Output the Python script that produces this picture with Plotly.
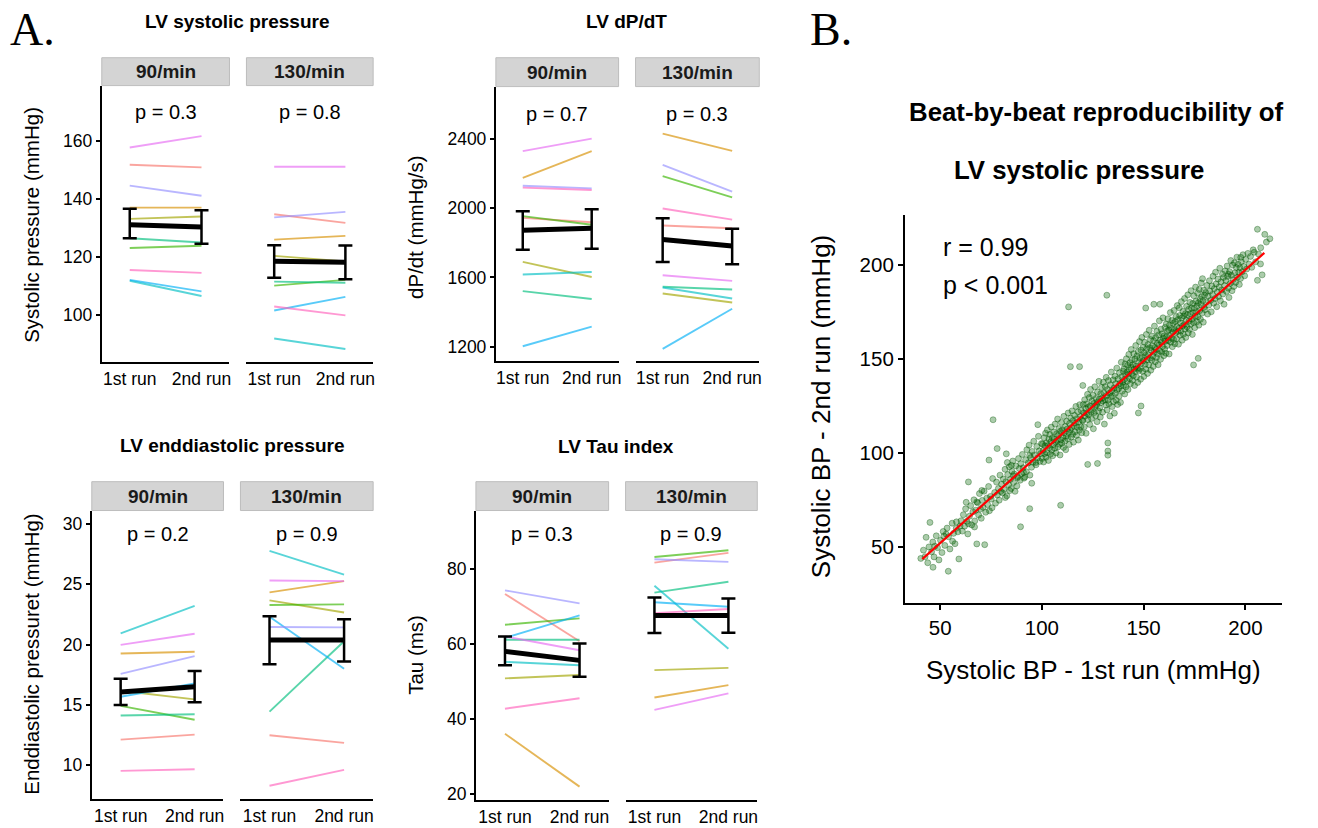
import plotly.graph_objects as go

W, H = 1318, 828

runs = ['1st run', '2nd run']
rates = ['90/min', '130/min']
subject_colors = ['#F8766D', '#D89000', '#A3A500', '#39B600', '#00BF7D',
                  '#00BFC4', '#00B0F6', '#9590FF', '#E76BF3', '#FF62BC']

# ---------------- Panel A data (10 subjects, ordered by colour) ----------------
# LV systolic pressure (mmHg)
sys_90_run1 = [151.8, 137.0, 133.1, 123.0, 126.4, 111.7, 112.0, 144.6, 157.8, 115.4]
sys_90_run2 = [150.9, 137.0, 133.9, 123.8, 124.9, 106.4, 108.0, 141.1, 161.7, 114.4]
sys_130_run1 = [134.7, 125.9, 120.3, 110.0, 111.4, 91.7, 101.4, 133.6, 151.1, 102.8]
sys_130_run2 = [131.7, 127.2, 118.4, 112.0, 111.0, 88.1, 106.1, 135.5, 151.1, 99.7]
sys_mean_90, sys_low_90, sys_high_90 = [131.1, 130.3], [126.4, 124.5], [136.6, 136.1]
sys_mean_130, sys_low_130, sys_high_130 = [118.4, 118.1], [112.7, 112.2], [124.0, 123.9]

# LV dP/dt (mmHg/s)
dpdt_90_run1 = [1945, 2177, 1690, 1955, 1521, 1617, 1202, 2131, 2331, 2120]
dpdt_90_run2 = [1920, 2331, 1603, 1905, 1475, 1632, 1315, 2116, 2404, 2106]
dpdt_130_run1 = [1901, 2433, 1507, 2187, 1546, 1542, 1187, 2252, 1613, 1999]
dpdt_130_run2 = [1885, 2333, 1455, 2064, 1530, 1478, 1419, 2097, 1580, 1935]
dpdt_mean_90, dpdt_low_90, dpdt_high_90 = [1874, 1885], [1761, 1766], [1983, 1995]
dpdt_mean_130, dpdt_low_130, dpdt_high_130 = [1820, 1782], [1690, 1676], [1943, 1882]

# LV end-diastolic pressure (mmHg)
edp_90_run1 = [12.13, 19.26, 16.17, 14.92, 14.13, 20.93, 15.68, 17.57, 19.97, 9.54]
edp_90_run2 = [12.54, 19.40, 15.46, 13.77, 14.23, 23.20, 16.78, 19.04, 20.90, 9.67]
edp_130_run1 = [12.49, 24.32, 23.66, 23.28, 14.45, 27.76, 22.30, 21.45, 25.30, 8.31]
edp_130_run2 = [11.86, 25.25, 22.65, 23.33, 20.27, 25.79, 18.00, 21.42, 25.25, 9.62]
edp_mean_90, edp_low_90, edp_high_90 = [16.07, 16.50], [15.00, 15.22], [17.16, 17.81]
edp_mean_130, edp_low_130, edp_high_130 = [20.38, 20.38], [18.36, 18.60], [22.35, 22.10]

# LV Tau index (ms)
tau_90_run1 = [73.4, 36.1, 50.9, 65.2, 61.2, 55.3, 61.7, 74.4, 62.1, 42.8]
tau_90_run2 = [60.8, 22.0, 51.8, 66.9, 61.2, 54.4, 67.7, 70.9, 58.4, 45.6]
tau_130_run1 = [81.8, 45.8, 53.1, 83.3, 73.8, 75.6, 71.2, 82.7, 42.5, 68.3]
tau_130_run2 = [84.4, 49.1, 53.7, 85.1, 76.7, 58.8, 70.0, 82.0, 46.9, 69.4]
tau_mean_90, tau_low_90, tau_high_90 = [58.1, 55.7], [54.4, 51.3], [62.1, 60.2]
tau_mean_130, tau_low_130, tau_high_130 = [67.7, 67.7], [63.0, 63.1], [72.5, 72.2]

p_values = {'sys': ['p = 0.3', 'p = 0.8'], 'dpdt': ['p = 0.7', 'p = 0.3'],
            'edp': ['p = 0.2', 'p = 0.9'], 'tau': ['p = 0.3', 'p = 0.9']}

# ---------------- Panel B data: beat-by-beat systolic BP (1st run, 2nd run) ----------------
sbp_40_60 = [(40.5, 44.1), (41.8, 48.5), (42.6, 45.0), (43.1, 55.3), (43.9, 41.8), (44.5, 50.2),
             (46.5, 39.4), (45.8, 47.6), (46.4, 52.8), (47.0, 44.9), (47.4, 50.6), (48.1, 56.1),
             (48.7, 49.8), (49.4, 43.3), (50.2, 53.7), (50.9, 47.2), (51.5, 58.4), (52.3, 51.0),
             (53.4, 60.2), (54.0, 37.3), (54.1, 55.6), (54.8, 49.1), (55.9, 62.8), (56.6, 57.4),
             (57.3, 51.9), (58.0, 63.5), (58.7, 58.2), (59.2, 43.8), (59.8, 61.3), (45.0, 63.2),
             (51.8, 55.9), (56.1, 53.2), (57.9, 60.1), (53.0, 57.0)]
sbp_60_80 = [(60.3, 64.1), (60.9, 58.6), (61.4, 67.3), (62.0, 61.2), (62.5, 70.4), (63.1, 63.8),
             (63.6, 57.1), (63.9, 84.7), (64.4, 66.5), (65.0, 72.1), (65.5, 61.9), (66.1, 68.8),
             (66.6, 75.2), (67.0, 64.0), (67.5, 69.7), (68.0, 51.8), (68.4, 73.6), (68.9, 67.1),
             (69.3, 78.5), (69.8, 70.3), (70.2, 65.4), (70.7, 74.9), (71.1, 71.2), (71.6, 79.8),
             (71.9, 51.4), (72.4, 68.6), (72.9, 76.1), (73.3, 72.7), (73.8, 82.3), (74.0, 96.3),
             (74.2, 69.4), (74.7, 77.0), (75.1, 75.6), (75.5, 71.0), (76.0, 117.7), (78.0, 102.4),
             (76.8, 79.1), (77.2, 73.4), (77.7, 84.6), (78.1, 77.8), (78.6, 81.2), (79.0, 75.0),
             (79.4, 88.3), (79.8, 79.6), (63.9, 62.5), (68.0, 74.1), (62.8, 73.9), (66.9, 60.8),
             (70.5, 80.2), (75.8, 86.5)]
sbp_80_100 = [(80.2, 83.5), (80.6, 78.9), (81.0, 86.2), (81.4, 80.7), (81.9, 91.4), (82.3, 84.8),
              (82.5, 99.6), (82.8, 77.3), (83.2, 88.6), (83.6, 83.1), (84.0, 92.7), (84.2, 80.1),
              (84.5, 86.0), (84.9, 81.2), (85.3, 90.3), (85.7, 95.8), (86.0, 88.0), (86.1, 84.4),
              (86.4, 88.9), (86.8, 79.7), (87.2, 93.2), (88.0, 86.9), (88.1, 87.5), (88.5, 97.1),
              (88.9, 91.8), (89.3, 85.6), (89.5, 60.9), (89.6, 94.4), (90.0, 89.0), (90.4, 99.3),
              (90.8, 92.2), (91.0, 89.7), (91.2, 86.7), (91.6, 87.3), (92.0, 96.5), (92.4, 90.1),
              (92.6, 101.8), (93.3, 94.8), (93.7, 104.2), (94.0, 70.5), (94.0, 98.8), (94.1, 88.3),
              (94.5, 97.6), (94.9, 92.5), (95.2, 100.9), (95.6, 95.1), (96.0, 106.3), (96.3, 99.0),
              (97.0, 95.0), (97.1, 93.8), (97.5, 103.5), (97.9, 97.4), (98.3, 108.9), (98.7, 101.2),
              (99.0, 95.6), (99.4, 99.7), (99.8, 105.1), (87.7, 82.6), (82.0, 76.4), (85.0, 93.5),
              (83.0, 95.0), (95.0, 84.0), (98.0, 115.1)]
sbp_100_120 = [(100.1, 97.2), (100.3, 104.8), (100.6, 101.5), (100.8, 95.3), (101.1, 108.2), (101.3, 99.7),
               (101.5, 103.9), (101.8, 110.6), (102.0, 97.8), (102.3, 105.4), (102.5, 100.2), (102.7, 112.3),
               (103.0, 104.0), (103.2, 96.1), (103.4, 107.5), (103.7, 102.8), (103.9, 109.9), (104.1, 99.4),
               (104.4, 106.1), (104.6, 113.8), (104.9, 101.7), (105.1, 108.0), (105.3, 98.6), (105.6, 104.5),
               (105.8, 111.2), (106.0, 107.3), (106.3, 102.6), (106.5, 115.4), (106.8, 105.9), (107.0, 100.1),
               (107.2, 110.2), (107.5, 106.7), (107.7, 118.1), (107.9, 103.3), (108.2, 109.5), (108.4, 113.0),
               (108.7, 104.7), (108.9, 99.0), (109.1, 111.6), (109.2, 72.3), (109.4, 107.1), (109.6, 116.3),
               (109.8, 105.2), (110.1, 112.4), (110.3, 108.3), (110.6, 103.0), (110.8, 119.5), (111.0, 110.7),
               (111.3, 106.4), (111.5, 114.1), (111.7, 101.8), (112.0, 109.1), (112.2, 116.9), (112.5, 112.8),
               (112.7, 107.6), (112.9, 121.3), (113.1, 177.6), (113.2, 110.9), (113.4, 104.6), (113.6, 115.7),
               (113.9, 112.1), (114.0, 145.9), (114.1, 118.6), (114.4, 108.5), (114.6, 113.6), (114.8, 122.4),
               (115.1, 110.0), (115.3, 117.2), (115.5, 105.8), (115.8, 114.5), (116.0, 120.1), (116.3, 111.3),
               (116.5, 116.0), (116.7, 124.8), (117.0, 109.4), (117.2, 118.3), (117.4, 113.7), (117.7, 121.9),
               (117.9, 106.9), (118.2, 116.6), (118.4, 112.2), (118.5, 145.9), (118.6, 125.7), (118.9, 119.4),
               (119.1, 114.0), (119.3, 122.6), (119.6, 110.8), (119.8, 117.5)]
sbp_120_140 = [(120.1, 117.2), (120.1, 135.9), (120.3, 125.8), (120.6, 121.4), (120.8, 113.9), (121.0, 128.3),
               (121.2, 119.6), (121.5, 123.7), (121.7, 110.5), (121.9, 126.1), (122.1, 121.0), (122.4, 131.2),
               (122.5, 94.0), (122.6, 117.8), (122.8, 124.4), (123.0, 120.3), (123.3, 129.5), (123.5, 115.2),
               (123.7, 125.0), (123.9, 133.8), (124.2, 121.9), (124.4, 118.4), (124.6, 127.6), (124.8, 123.1),
               (125.1, 130.7), (125.3, 112.9), (125.5, 126.3), (125.7, 121.5), (126.0, 135.2), (126.2, 124.9),
               (126.4, 119.8), (126.6, 129.0), (126.9, 125.6), (127.1, 116.7), (127.3, 94.5), (127.3, 132.4),
               (127.5, 127.2), (127.8, 122.3), (128.0, 138.1), (128.2, 128.6), (128.4, 124.0), (128.7, 119.1),
               (128.9, 131.5), (129.1, 126.8), (129.3, 134.9), (129.6, 129.3), (129.8, 121.7), (130.0, 127.7),
               (130.2, 137.6), (130.5, 132.0), (130.7, 115.4), (130.9, 128.4), (131.1, 135.3), (131.4, 125.5),
               (131.6, 140.2), (131.8, 130.6), (131.9, 183.8), (132.0, 122.9), (132.3, 133.7), (132.4, 105.4),
               (132.4, 101.1), (132.4, 98.9), (132.5, 128.1), (132.7, 138.5), (132.9, 126.2), (133.2, 131.8),
               (133.4, 119.7), (133.6, 136.3), (133.8, 129.9), (134.1, 143.0), (134.3, 133.1), (134.5, 124.7),
               (134.7, 130.4), (135.0, 138.9), (135.2, 127.3), (135.4, 134.6), (135.6, 121.2), (135.9, 140.8),
               (136.1, 131.7), (136.3, 136.9), (136.5, 128.0), (136.8, 145.1), (137.0, 133.5), (137.2, 125.8),
               (137.4, 139.4), (137.7, 134.2), (137.9, 130.1), (138.1, 142.7), (138.3, 137.0), (138.6, 126.9),
               (138.8, 135.8), (139.0, 148.2), (139.2, 140.5), (139.5, 132.9), (139.7, 137.7), (139.9, 143.6)]
sbp_140_160 = [(140.1, 136.0), (140.3, 144.8), (140.5, 139.1), (140.7, 131.4), (140.9, 147.3), (141.1, 141.5),
               (141.3, 135.2), (141.5, 150.1), (141.7, 143.0), (141.9, 138.2), (142.1, 146.6), (142.3, 133.7),
               (142.5, 141.9), (142.7, 152.4), (142.9, 144.3), (143.1, 139.6), (143.3, 148.0), (143.5, 136.8),
               (143.7, 145.5), (143.9, 155.0), (144.1, 142.2), (144.3, 149.4), (144.5, 138.7), (144.7, 146.9),
               (144.9, 141.1), (145.1, 152.8), (145.3, 144.6), (145.5, 135.9), (145.7, 149.9), (145.9, 143.3),
               (146.1, 157.1), (146.3, 146.2), (146.5, 140.4), (146.7, 151.6), (146.9, 145.0), (147.1, 137.5),
               (147.3, 153.9), (147.4, 121.3), (147.5, 148.3), (147.7, 143.8), (147.9, 159.2), (148.1, 150.5),
               (148.3, 144.9), (148.5, 139.2), (148.7, 125.0), (148.7, 154.7), (148.9, 147.6), (149.1, 161.4),
               (149.3, 151.1), (149.5, 143.4), (149.7, 156.2), (149.9, 149.0), (150.1, 140.7), (150.3, 153.3),
               (150.5, 158.8), (150.7, 147.1), (150.9, 151.9), (151.0, 177.0), (151.1, 144.5), (151.3, 163.0),
               (151.5, 155.4), (151.7, 149.6), (151.9, 142.3), (152.1, 157.6), (152.3, 152.2), (152.5, 146.8),
               (152.7, 165.2), (152.9, 155.9), (153.1, 150.4), (153.3, 160.3), (153.5, 144.0), (153.7, 154.5),
               (153.9, 149.3), (154.1, 162.1), (154.3, 157.0), (154.5, 151.5), (154.7, 146.0), (154.9, 159.7),
               (155.0, 179.0), (155.1, 153.6), (155.3, 167.4), (155.5, 156.1), (155.7, 148.5), (155.9, 161.2),
               (156.1, 155.0), (156.3, 150.7), (156.5, 164.6), (156.7, 158.3), (156.9, 152.8), (157.1, 146.9),
               (157.3, 162.7), (157.5, 157.4), (157.7, 170.2), (158.0, 179.0), (157.9, 154.2), (158.1, 160.0),
               (158.3, 149.8), (158.5, 165.8), (158.7, 158.9), (158.9, 153.5), (159.1, 163.4), (159.3, 156.6),
               (159.5, 171.8), (159.7, 160.9), (159.9, 151.7)]
sbp_160_180 = [(160.1, 162.2), (160.3, 155.3), (160.5, 166.7), (160.7, 159.4), (160.9, 153.0), (161.1, 168.5),
               (161.3, 161.7), (161.5, 157.1), (161.7, 164.9), (161.9, 171.3), (162.1, 159.8), (162.3, 165.3),
               (162.5, 152.6), (162.7, 168.0), (162.9, 162.4), (163.1, 174.6), (163.3, 158.9), (163.5, 166.1),
               (163.7, 161.0), (163.9, 170.4), (164.1, 156.5), (164.3, 164.2), (164.5, 168.9), (164.7, 160.3),
               (164.9, 175.7), (165.1, 165.6), (165.3, 158.1), (165.5, 169.8), (165.7, 163.9), (165.9, 172.5),
               (166.1, 160.7), (166.3, 167.2), (166.5, 178.3), (166.7, 164.5), (166.9, 170.9), (167.1, 157.8),
               (167.3, 166.3), (167.5, 177.1), (167.7, 173.0), (167.9, 162.6), (168.1, 169.1), (168.3, 164.8),
               (168.5, 180.4), (168.7, 171.7), (168.9, 159.9), (169.1, 167.5), (169.3, 175.2), (169.5, 163.1),
               (169.7, 172.8), (169.9, 168.2), (170.1, 182.1), (170.3, 165.9), (170.5, 174.0), (170.7, 161.4),
               (170.9, 170.6), (171.1, 177.9), (171.3, 167.0), (171.5, 173.4), (171.7, 184.0), (171.9, 163.8),
               (172.1, 176.3), (172.3, 170.1), (172.5, 165.7), (172.7, 180.0), (172.9, 173.9), (173.1, 168.4),
               (173.3, 186.2), (173.5, 176.9), (173.7, 171.2), (173.9, 163.0), (174.1, 179.4), (174.3, 174.5),
               (174.5, 146.8), (174.5, 169.3), (174.7, 183.5), (174.9, 177.0), (175.1, 166.6), (175.3, 172.7),
               (175.5, 188.1), (175.7, 180.6), (175.9, 174.9), (176.1, 169.7), (176.3, 178.2), (176.5, 184.9),
               (176.8, 150.3), (176.7, 172.4), (176.9, 179.8), (177.1, 167.9), (177.3, 186.9), (177.5, 175.6),
               (177.7, 181.7), (177.9, 171.0), (178.1, 178.8), (178.3, 190.3), (178.5, 183.0), (178.9, 192.6),
               (178.7, 174.3), (179.1, 180.9), (179.3, 169.5), (179.5, 186.4), (179.7, 177.4), (179.9, 183.9)]
sbp_180_200 = [(180.2, 176.1), (180.5, 185.2), (180.8, 180.3), (181.1, 189.0), (181.4, 173.8), (181.7, 183.4),
               (182.0, 178.6), (182.3, 191.5), (182.6, 186.0), (182.9, 181.1), (183.2, 175.0), (183.5, 188.7),
               (183.8, 184.2), (184.1, 193.9), (184.4, 179.6), (184.7, 187.3), (185.0, 182.0), (185.3, 196.0),
               (185.6, 189.8), (185.9, 177.7), (186.2, 185.5), (186.5, 192.4), (186.8, 183.1), (187.1, 188.2),
               (187.4, 198.1), (187.7, 180.8), (188.0, 190.9), (188.3, 186.6), (188.7, 195.0), (188.9, 184.4),
               (189.2, 193.2), (189.5, 179.0), (189.8, 188.9), (190.1, 196.7), (190.4, 191.6), (190.7, 185.8),
               (191.0, 199.3), (191.3, 193.8), (191.7, 195.0), (191.6, 187.5), (191.9, 182.6), (192.2, 196.3),
               (192.5, 190.0), (192.8, 202.2), (193.1, 194.4), (193.4, 186.2), (193.7, 199.8), (194.0, 192.1),
               (194.3, 188.4), (194.6, 201.0), (194.9, 195.7), (195.2, 190.6), (195.5, 198.5), (195.8, 204.0),
               (196.1, 193.4), (196.4, 200.2), (196.7, 195.9), (197.0, 189.5), (197.7, 203.9), (197.3, 198.4),
               (197.6, 192.7), (198.0, 201.6), (198.4, 196.2), (198.8, 205.3), (199.2, 199.1), (199.6, 194.1)]
sbp_200_216 = [(200.1, 202.8), (200.6, 197.7), (201.2, 206.0), (201.8, 200.3), (202.5, 204.4), (203.1, 198.6),
               (203.8, 207.9), (204.3, 206.6), (205.0, 201.5), (205.9, 191.7), (205.9, 218.8), (206.4, 205.7),
               (207.4, 200.4), (207.5, 209.0), (208.2, 194.6), (209.5, 216.1), (210.3, 212.0), (212.0, 213.8)]

# regression line end points
fit_run1 = [41.2, 209.3]
fit_run2 = [43.7, 206.3]

# ---------------- helpers ----------------
def fx(px):
    return px / W

def fy(py):
    return 1 - py / H

FONT = 'Liberation Sans, Arial, sans-serif'
SERIF = 'Liberation Serif, Times New Roman, serif'
TICK = 17.5

measures = {
    'sys': dict(title='LV systolic pressure', ytitle='Systolic pressure (mmHg)', yrange=[83.5, 179.2],
                ticks=[100, 120, 140, 160],
                data=[(sys_90_run1, sys_90_run2, sys_mean_90, sys_low_90, sys_high_90),
                      (sys_130_run1, sys_130_run2, sys_mean_130, sys_low_130, sys_high_130)],
                boxes=[(102, 230), (247, 374)], ybox=(86, 364), title_xy=(238, 22), ytitle_xy=(32, 226),
                p_y=113, strip=(58, 86)),
    'dpdt': dict(title='LV dP/dT', ytitle='dP/dt (mmHg/s)', yrange=[1115, 2705],
                 ticks=[1200, 1600, 2000, 2400],
                 data=[(dpdt_90_run1, dpdt_90_run2, dpdt_mean_90, dpdt_low_90, dpdt_high_90),
                       (dpdt_130_run1, dpdt_130_run2, dpdt_mean_130, dpdt_low_130, dpdt_high_130)],
                 boxes=[(497, 620), (637, 761)], ybox=(87, 363), title_xy=(628, 22), ytitle_xy=(417, 228),
                 p_y=115, strip=(58, 87)),
    'edp': dict(title='LV enddiastolic pressure', ytitle='Enddiastolic pressuret (mmHg)', yrange=[7.2, 31.1],
                ticks=[10, 15, 20, 25, 30],
                data=[(edp_90_run1, edp_90_run2, edp_mean_90, edp_low_90, edp_high_90),
                      (edp_130_run1, edp_130_run2, edp_mean_130, edp_low_130, edp_high_130)],
                boxes=[(92, 224), (241, 374)], ybox=(513, 803), title_xy=(233, 448), ytitle_xy=(32, 657),
                p_y=537, strip=(484, 513)),
    'tau': dict(title='LV Tau index', ytitle='Tau (ms)', yrange=[18.4, 95.7],
                ticks=[20, 40, 60, 80],
                data=[(tau_90_run1, tau_90_run2, tau_mean_90, tau_low_90, tau_high_90),
                      (tau_130_run1, tau_130_run2, tau_mean_130, tau_low_130, tau_high_130)],
                boxes=[(477, 610), (627, 759)], ybox=(513, 804), title_xy=(617, 449), ytitle_xy=(417, 658),
                p_y=537, strip=(484, 513)),
}

fig = go.Figure()
layout = {}
annotations = []
shapes = []

k = 0
for key, m in measures.items():
    y0, y1 = m['ybox']
    for j in range(2):
        k += 1
        xa = 'x' if k == 1 else f'x{k}'
        ya = 'y' if k == 1 else f'y{k}'
        r1, r2, mean, low, high = m['data'][j]
        for i, c in enumerate(subject_colors):
            fig.add_trace(go.Scatter(x=runs, y=[r1[i], r2[i]], mode='lines',
                                     line=dict(color=c, width=1.9), opacity=0.65,
                                     xaxis=xa, yaxis=ya, showlegend=False, hoverinfo='skip'))
        fig.add_trace(go.Scatter(
            x=runs, y=mean, mode='lines', line=dict(color='black', width=5),
            error_y=dict(type='data', symmetric=False,
                         array=[h - mm for h, mm in zip(high, mean)],
                         arrayminus=[mm - lo for mm, lo in zip(mean, low)],
                         color='black', thickness=2.5, width=7),
            xaxis=xa, yaxis=ya, showlegend=False, hoverinfo='skip'))
        bx0, bx1 = m['boxes'][j]
        left = (j == 0)
        layout['xaxis' if k == 1 else f'xaxis{k}'] = dict(
            domain=[fx(bx0), fx(bx1)], anchor=ya, type='category', range=[-0.39, 1.39],
            showline=True, linecolor='black', linewidth=2, ticks='', showgrid=False,
            zeroline=False, tickfont=dict(family=FONT, size=TICK, color='black'))
        layout['yaxis' if k == 1 else f'yaxis{k}'] = dict(
            domain=[fy(y1), fy(y0)], anchor=xa, range=m['yrange'],
            showline=left, linecolor='black', linewidth=2,
            ticks='outside' if left else '', ticklen=4, tickwidth=1.5, tickcolor='black',
            showticklabels=left, tickvals=m['ticks'], showgrid=False, zeroline=False,
            tickfont=dict(family=FONT, size=TICK, color='black'))
        # facet strip
        s0, s1 = m['strip']
        shapes.append(dict(type='rect', xref='paper', yref='paper', x0=fx(bx0), x1=fx(bx1),
                           y0=fy(s1), y1=fy(s0), fillcolor='#D4D4D4',
                           line=dict(color='#BDBDBD', width=1), layer='below'))
        annotations.append(dict(text=f'<b>{rates[j]}</b>', xref='paper', yref='paper',
                                x=fx((bx0 + bx1) / 2), y=fy((s0 + s1) / 2), showarrow=False,
                                xanchor='center', yanchor='middle',
                                font=dict(family=FONT, size=19, color='#1A1A1A')))
        # p value
        annotations.append(dict(text=p_values[key][j],
                                xref=('x' if k == 1 else f'x{k}') + ' domain', yref='paper',
                                x=0.5, y=fy(m['p_y']), showarrow=False, xanchor='center',
                                yanchor='middle', font=dict(family=FONT, size=20, color='black')))
    # panel title and y title
    tx, ty = m['title_xy']
    annotations.append(dict(text=f"<b>{m['title']}</b>", xref='paper', yref='paper', x=fx(tx), y=fy(ty),
                            showarrow=False, xanchor='center', yanchor='middle',
                            font=dict(family=FONT, size=19, color='black')))
    ax, ay = m['ytitle_xy']
    annotations.append(dict(text=m['ytitle'], xref='paper', yref='paper', x=fx(ax), y=fy(ay),
                            showarrow=False, xanchor='center', yanchor='middle', textangle=-90,
                            font=dict(family=FONT, size=20.5, color='black')))

# ---------------- Panel B ----------------
sbp_bins = [sbp_40_60, sbp_60_80, sbp_80_100, sbp_100_120, sbp_120_140,
            sbp_140_160, sbp_160_180, sbp_180_200, sbp_200_216]
sbp_run1 = [p[0] for b in sbp_bins for p in b]
sbp_run2 = [p[1] for b in sbp_bins for p in b]

fig.add_trace(go.Scatter(x=sbp_run1, y=sbp_run2, mode='markers',
                         marker=dict(size=6, color='rgba(0,100,0,0.33)',
                                     line=dict(width=0.7, color='rgba(0,80,0,0.5)')),
                         xaxis='x9', yaxis='y9', showlegend=False, hoverinfo='skip'))
fig.add_trace(go.Scatter(x=fit_run1, y=fit_run2, mode='lines', line=dict(color='#FF0000', width=2.2),
                         xaxis='x9', yaxis='y9', showlegend=False, hoverinfo='skip'))

layout['xaxis9'] = dict(domain=[fx(907), fx(1285)], anchor='y9', range=[32.7, 218.0],
                        showline=True, linecolor='black', linewidth=2, ticks='outside', ticklen=5,
                        tickwidth=1.5, tickcolor='black', tickvals=[50, 100, 150, 200],
                        showgrid=False, zeroline=False,
                        tickfont=dict(family=FONT, size=20.5, color='black'))
layout['yaxis9'] = dict(domain=[fy(606), fy(216)], anchor='x9', range=[20.4, 226.4],
                        showline=True, linecolor='black', linewidth=2, ticks='outside', ticklen=5,
                        tickwidth=1.5, tickcolor='black', tickvals=[50, 100, 150, 200],
                        showgrid=False, zeroline=False,
                        tickfont=dict(family=FONT, size=20.5, color='black'))

annotations += [
    dict(text='<b>Beat-by-beat reproducibility of</b>', x=fx(1099), y=fy(113)),
    dict(text='<b>LV systolic pressure</b>', x=fx(1081), y=fy(171)),
]
for a in annotations[-2:]:
    a.update(xref='paper', yref='paper', showarrow=False, xanchor='center', yanchor='middle',
             font=dict(family=FONT, size=25.8, color='black'))
annotations += [
    dict(text='r = 0.99', xref='paper', yref='paper', x=fx(943), y=fy(248), showarrow=False,
         xanchor='left', yanchor='middle', font=dict(family=FONT, size=25, color='black')),
    dict(text='p < 0.001', xref='paper', yref='paper', x=fx(943), y=fy(286), showarrow=False,
         xanchor='left', yanchor='middle', font=dict(family=FONT, size=25, color='black')),
    dict(text='Systolic BP - 1st run (mmHg)', xref='paper', yref='paper', x=fx(1096), y=fy(673),
         showarrow=False, xanchor='center', yanchor='middle', font=dict(family=FONT, size=26, color='black')),
    dict(text='Systolic BP - 2nd run (mmHg)', xref='paper', yref='paper', x=fx(823), y=fy(409),
         showarrow=False, xanchor='center', yanchor='middle', textangle=-90,
         font=dict(family=FONT, size=26, color='black')),
    dict(text='A.', xref='paper', yref='paper', x=fx(8), y=fy(30), showarrow=False,
         xanchor='left', yanchor='middle', font=dict(family=SERIF, size=46, color='black')),
    dict(text='B.', xref='paper', yref='paper', x=fx(810), y=fy(30), showarrow=False,
         xanchor='left', yanchor='middle', font=dict(family=SERIF, size=46, color='black')),
]

fig.update_layout(width=W, height=H, margin=dict(l=0, r=0, t=0, b=0), autosize=False,
                  paper_bgcolor='white', plot_bgcolor='white', annotations=annotations,
                  shapes=shapes, showlegend=False, **layout)

fig.write_html('out.html', config={'displayModeBar': False},
               post_script="document.body.style.margin='0px';document.body.style.padding='0px';"
                           "document.body.style.overflow='hidden';")
